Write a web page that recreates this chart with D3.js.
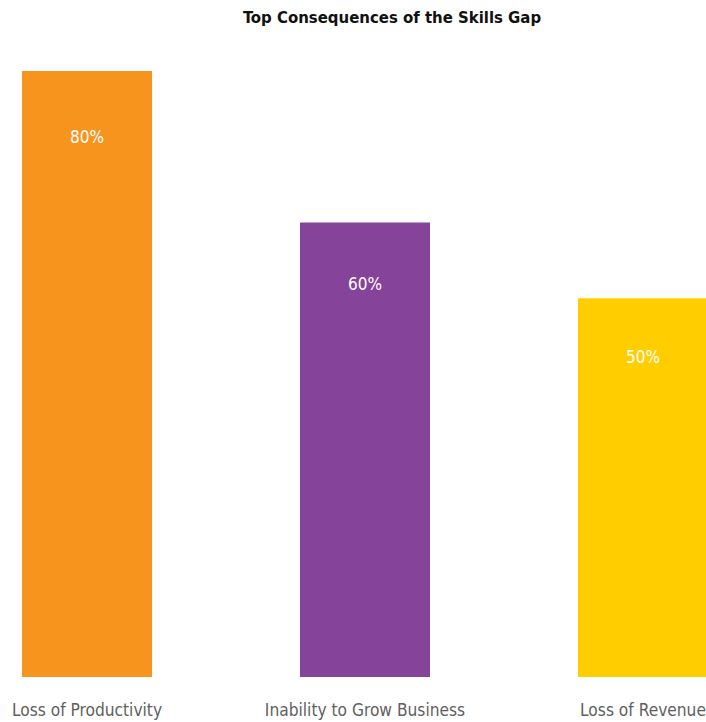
<!DOCTYPE html>
<html>
<head>
<meta charset="utf-8">
<script src="https://cdn.jsdelivr.net/npm/d3@7"></script>
<style>
  html, body { margin: 0; padding: 0; background: #fff; }
  svg { display: block; }
  .cond { font-family: "DejaVu Sans Condensed", "Liberation Sans Narrow", "Roboto", sans-serif; }
</style>
</head>
<body>
<svg id="chart" width="706" height="722"></svg>
<script>
const categories = ["Loss of Productivity", "Inability to Grow Business", "Loss of Revenue"];
const values = [80, 60, 50];
const valueLabels = ["80%", "60%", "50%"];
const colors = ["#f7941e", "#85449a", "#ffcd00"];
const chartTitle = "Top Consequences of the Skills Gap";

const svg = d3.select("#chart");

const x = d3.scaleBand()
  .domain(categories)
  .range([22, 708])
  .paddingInner(0.5324)
  .paddingOuter(0);

const y = d3.scaleLinear()
  .domain([0, 80])
  .range([677, 71]);

// title
svg.append("text")
  .attr("class", "cond")
  .attr("x", 392)
  .attr("y", 23)
  .attr("text-anchor", "middle")
  .attr("font-size", 16.6)
  .attr("font-weight", "bold")
  .attr("fill", "#111")
  .text(chartTitle);

// bars
svg.selectAll("rect.bar")
  .data(categories)
  .join("rect")
  .attr("class", "bar")
  .attr("x", d => x(d))
  .attr("width", x.bandwidth())
  .attr("y", (d, i) => y(values[i]))
  .attr("height", (d, i) => y(0) - y(values[i]))
  .attr("fill", (d, i) => colors[i]);

// value labels inside bars
svg.selectAll("text.val")
  .data(categories)
  .join("text")
  .attr("class", "val cond")
  .attr("x", d => x(d) + x.bandwidth() / 2)
  .attr("y", (d, i) => y(values[i]) + 47 + 0.031 * (y(0) - y(values[i])))
  .attr("dy", "0.35em")
  .attr("text-anchor", "middle")
  .attr("font-size", 17)
  .attr("fill", "#fff")
  .text((d, i) => valueLabels[i]);

// category axis labels
svg.selectAll("text.cat")
  .data(categories)
  .join("text")
  .attr("class", "cat cond")
  .attr("x", d => x(d) + x.bandwidth() / 2)
  .attr("y", 710)
  .attr("dy", "0.35em")
  .attr("text-anchor", "middle")
  .attr("font-size", 17.2)
  .attr("fill", "#606060")
  .text(d => d);
</script>
</body>
</html>
